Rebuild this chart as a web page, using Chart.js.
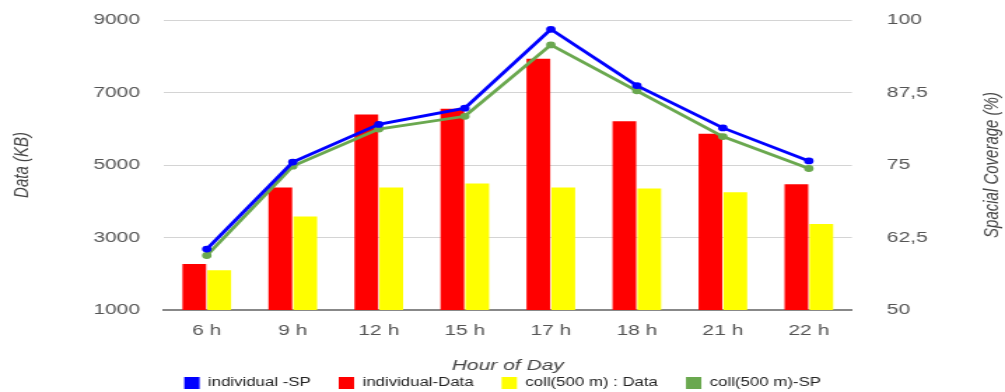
<!DOCTYPE html>
<html>
<head>
<meta charset="utf-8">
<script src="https://cdn.jsdelivr.net/npm/chart.js@4"></script>
<style>
  html, body { margin: 0; padding: 0; background: #fff; overflow: hidden; }
  #wrap { width: 718px; height: 392px; transform: scaleX(1.39972); transform-origin: 0 0; }
</style>
</head>
<body>
<div id="wrap"><canvas id="chart" width="718" height="392"></canvas></div>
<script>
const hours = ['6 h', '9 h', '12 h', '15 h', '17 h', '18 h', '21 h', '22 h'];

// KB, left axis
const individualData = [2270, 4380, 6390, 6550, 7930, 6210, 5860, 4470];
const collData = [2100, 3580, 4380, 4490, 4380, 4350, 4250, 3370];

// spacial coverage %, right axis
const individualSP = [60.5, 75.5, 82.0, 84.8, 98.4, 88.7, 81.4, 75.7];
const collSP = [59.4, 74.8, 81.2, 83.4, 95.7, 87.8, 79.9, 74.4];

const fontFamily = '"Liberation Sans", Arial, sans-serif';

// right axis title reads bottom to top, chart.js would rotate it the other way
const rightTitle = {
    id: 'rightTitle',
    afterDraw(chart) {
        const ctx = chart.ctx;
        const sc = chart.scales.y2;
        const area = chart.chartArea;
        ctx.save();
        ctx.translate(sc.right - 9.5, (area.top + area.bottom) / 2);
        ctx.rotate(-Math.PI / 2);
        ctx.font = 'italic 15px ' + fontFamily;
        ctx.fillStyle = '#444';
        ctx.textAlign = 'center';
        ctx.textBaseline = 'middle';
        ctx.fillText('Spacial Coverage (%)', 0, 0);
        ctx.restore();
    }
};

// fixed axis sizes so the plot area sits where it does in the original
function fixY(width) {
    return (scale) => {
        scale.width = width;
        scale.paddingTop = 0;
        scale.paddingBottom = 0;
    };
}

new Chart(document.getElementById('chart'), {
    type: 'bar',
    data: {
        labels: hours,
        datasets: [{
            type: 'line',
            label: 'individual -SP',
            data: individualSP,
            yAxisID: 'y2',
            borderColor: '#0000ff',
            backgroundColor: '#0000ff',
            borderWidth: 2.8,
            pointRadius: 2,
            pointBackgroundColor: '#0000ff',
            tension: 0,
            order: 0
        },
        {
            label: 'individual-Data',
            data: individualData,
            backgroundColor: '#ff0000',
            order: 1
        },
        {
            label: 'coll(500 m) : Data',
            data: collData,
            backgroundColor: '#ffff00',
            order: 1
        },
        {
            type: 'line',
            label: 'coll(500 m)-SP',
            data: collSP,
            yAxisID: 'y2',
            borderColor: '#6aa84f',
            backgroundColor: '#6aa84f',
            borderWidth: 2.8,
            pointRadius: 2,
            pointBackgroundColor: '#6aa84f',
            tension: 0,
            order: 0
        }]
    },
    options: {
        responsive: false,
        animation: false,
        devicePixelRatio: 1,
        categoryPercentage: 0.58,
        barPercentage: 0.95,
        layout: {
            padding: { top: 20, bottom: -7, left: 0, right: 0 }
        },
        plugins: {
            legend: {
                position: 'bottom',
                labels: {
                    boxWidth: 11,
                    boxHeight: 12,
                    padding: 20,
                    color: '#222',
                    font: { family: fontFamily, size: 12 },
                    sort: (a, b) => a.datasetIndex - b.datasetIndex,
                    generateLabels: (chart) => Chart.defaults.plugins.legend.labels.generateLabels(chart)
                        .map(l => Object.assign(l, { lineWidth: 0 }))
                }
            },
            tooltip: { enabled: false }
        },
        scales: {
            x: {
                grid: { display: false },
                border: { display: true, color: '#888', width: 2 },
                ticks: {
                    color: '#555',
                    padding: 4,
                    font: { family: fontFamily, size: 15 }
                },
                title: {
                    display: true,
                    text: 'Hour of Day',
                    color: '#444',
                    font: { family: fontFamily, size: 15, style: 'italic' },
                    padding: { top: 0, bottom: -18 }
                },
                afterFit: (scale) => { scale.height = 47; }
            },
            y: {
                position: 'left',
                min: 1000,
                max: 9000,
                grid: { color: '#d4d4d4', lineWidth: 1, drawTicks: false },
                border: { display: false },
                ticks: {
                    stepSize: 2000,
                    color: '#555',
                    padding: 17,
                    font: { family: fontFamily, size: 15 },
                    callback: (v) => String(v)
                },
                title: {
                    display: true,
                    text: 'Data (KB)',
                    color: '#444',
                    font: { family: fontFamily, size: 15, style: 'italic' },
                    padding: { top: 7, bottom: 0 }
                },
                afterFit: fixY(117)
            },
            y2: {
                position: 'right',
                min: 50,
                max: 100,
                grid: { display: false },
                border: { display: false },
                ticks: {
                    stepSize: 12.5,
                    color: '#555',
                    padding: 17,
                    font: { family: fontFamily, size: 15 },
                    callback: (v) => String(v).replace('.', ',')
                },
                afterFit: fixY(109.4)
            }
        }
    },
    plugins: [rightTitle]
});
</script>
</body>
</html>
